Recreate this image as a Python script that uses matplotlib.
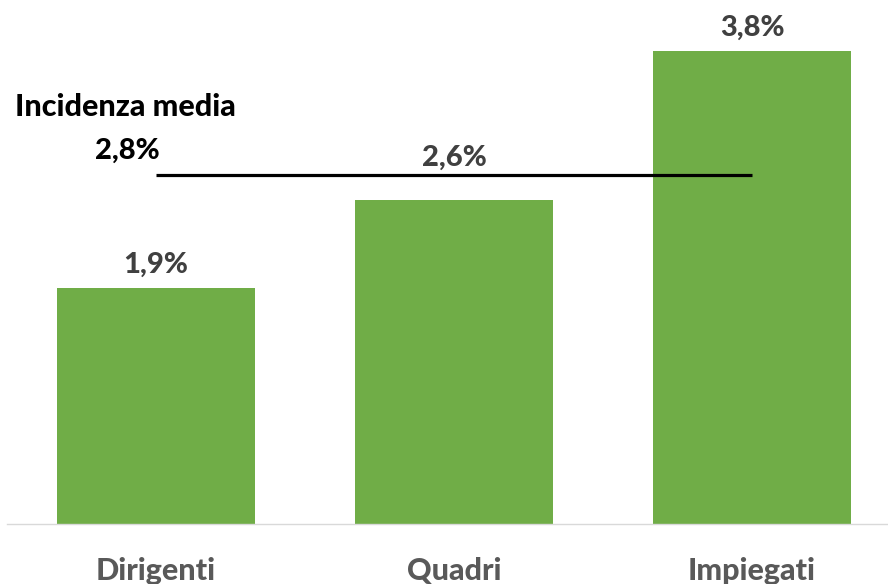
import matplotlib
matplotlib.use("Agg")
import matplotlib.pyplot as plt

categories = ["Dirigenti", "Quadri", "Impiegati"]
values = [1.9, 2.6, 3.8]
value_labels = ["1,9%", "2,6%", "3,8%"]
media = 2.8
media_label = "2,8%"

BAR_COLOR = "#70AD47"
TEXT_GRAY = "#404040"
AXIS_GRAY = "#595959"

plt.rcParams["font.family"] = ["Lato", "DejaVu Sans"]

fig = plt.figure(figsize=(8.88, 5.84), dpi=100)
ax = fig.add_axes([7 / 888, 60 / 584, 894 / 888, 524 / 584])

x = list(range(len(categories)))
ax.bar(x, values, width=0.667, color=BAR_COLOR, zorder=2)

ax.set_xlim(-0.5, 2.5)
ax.set_ylim(0, 4.21)

# value labels; the middle one sits above the average line
offsets = [16, 31, 17]
for xi, v, lab, off in zip(x, values, value_labels, offsets):
    ax.annotate(lab, (xi, v), xytext=(0, off), textcoords="offset points",
                ha="center", va="center", fontsize=21, fontweight=900,
                color=TEXT_GRAY)

# average line between first and last category
ax.plot([x[0], x[-1]], [media, media], color="black", lw=2.3, zorder=3,
        solid_capstyle="butt")
ax.text(-0.473, media + 0.55, "Incidenza media", ha="left", va="center",
        fontsize=22, fontweight=900, color="black")
ax.text(-0.205, media + 0.2, media_label, ha="left", va="center",
        fontsize=21, fontweight=900, color="black")

ax.set_xticks(x)
ax.set_xticklabels(categories, fontsize=22, fontweight=900, color=AXIS_GRAY)
ax.tick_params(axis="x", length=0, pad=24)
ax.set_yticks([])
for side in ["top", "right", "left"]:
    ax.spines[side].set_visible(False)
ax.spines["bottom"].set_color("#D9D9D9")
ax.spines["bottom"].set_linewidth(1.0)

fig.savefig("out.png", dpi=100)
